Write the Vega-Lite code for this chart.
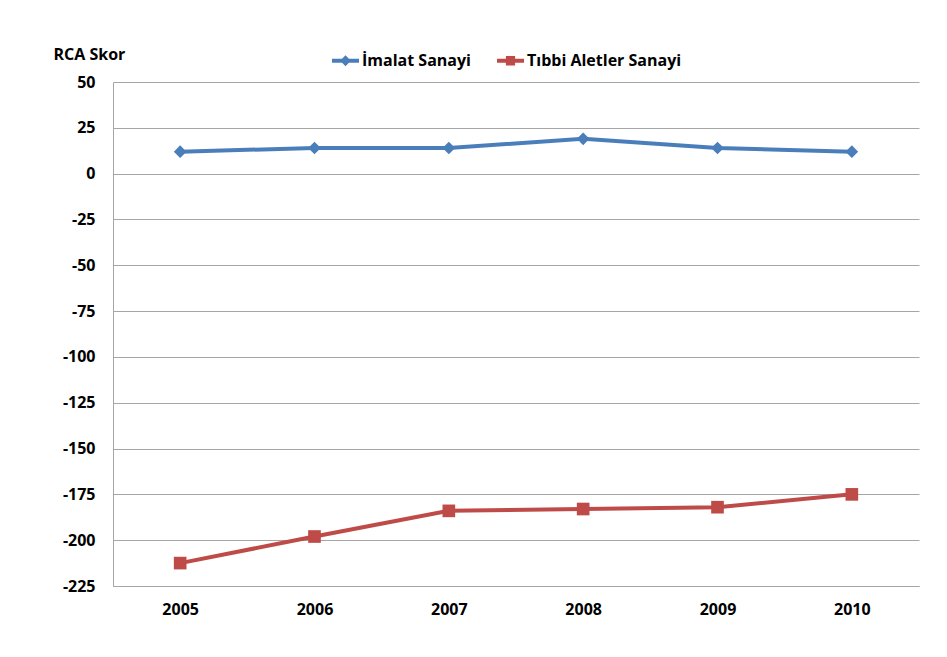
{
  "$schema": "https://vega.github.io/schema/vega-lite/v6.json",
  "width": 806,
  "height": 504,
  "autosize": {"type": "none"},
  "padding": {"left": 113, "top": 82, "right": 28, "bottom": 71},
  "background": "white",
  "config": {
    "font": "Open Sans",
    "view": {"stroke": null},
    "axis": {
      "labelFont": "Open Sans",
      "labelFontSize": 16,
      "labelFontWeight": "bold",
      "labelColor": "#000000",
      "titleFont": "Open Sans",
      "titleColor": "#000000"
    }
  },
  "data": {
    "values": [
      {"year": "2005", "series": "İmalat Sanayi", "value": 12},
      {"year": "2006", "series": "İmalat Sanayi", "value": 14},
      {"year": "2007", "series": "İmalat Sanayi", "value": 14},
      {"year": "2008", "series": "İmalat Sanayi", "value": 19},
      {"year": "2009", "series": "İmalat Sanayi", "value": 14},
      {"year": "2010", "series": "İmalat Sanayi", "value": 12},
      {"year": "2005", "series": "Tıbbi Aletler Sanayi", "value": -212.5},
      {"year": "2006", "series": "Tıbbi Aletler Sanayi", "value": -198},
      {"year": "2007", "series": "Tıbbi Aletler Sanayi", "value": -184},
      {"year": "2008", "series": "Tıbbi Aletler Sanayi", "value": -183},
      {"year": "2009", "series": "Tıbbi Aletler Sanayi", "value": -182},
      {"year": "2010", "series": "Tıbbi Aletler Sanayi", "value": -175}
    ]
  },
  "encoding": {
    "x": {
      "field": "year",
      "type": "ordinal",
      "scale": {"type": "point", "padding": 0.5},
      "axis": {
        "title": null,
        "labelAngle": 0,
        "ticks": false,
        "grid": false,
        "domain": true,
        "domainColor": "#A6A6A6",
        "labelPadding": 15
      }
    },
    "y": {
      "field": "value",
      "type": "quantitative",
      "scale": {"domain": [-225, 50], "nice": false, "zero": false},
      "axis": {
        "values": [-225, -200, -175, -150, -125, -100, -75, -50, -25, 0, 25, 50],
        "labelExpr": "'' + datum.value",
        "grid": true,
        "gridColor": "#A6A6A6",
        "domain": true,
        "domainColor": "#A6A6A6",
        "ticks": false,
        "labelPadding": 18,
        "title": "RCA Skor",
        "titleAngle": 0,
        "titleAlign": "left",
        "titleBaseline": "middle",
        "titleX": -60,
        "titleY": -28,
        "titleFontSize": 16,
        "titleFontWeight": "bold"
      }
    }
  },
  "layer": [
    {
      "mark": {"type": "line", "strokeWidth": 4},
      "encoding": {
        "color": {
          "field": "series",
          "type": "nominal",
          "scale": {"domain": ["İmalat Sanayi", "Tıbbi Aletler Sanayi"], "range": ["#4A7EBB", "#BE4B48"]},
          "legend": null
        }
      }
    },
    {
      "mark": {"type": "point", "filled": true, "size": 160, "opacity": 1},
      "encoding": {
        "color": {
          "field": "series",
          "type": "nominal",
          "scale": {"domain": ["İmalat Sanayi", "Tıbbi Aletler Sanayi"], "range": ["#4A7EBB", "#BE4B48"]},
          "legend": null
        },
        "shape": {
          "field": "series",
          "type": "nominal",
          "scale": {"domain": ["İmalat Sanayi", "Tıbbi Aletler Sanayi"], "range": ["diamond", "square"]},
          "legend": null
        }
      }
    },
    {
      "mark": {"type": "point", "filled": true, "opacity": 0},
      "encoding": {
        "color": {
          "field": "series",
          "type": "nominal",
          "scale": {"domain": ["İmalat Sanayi", "Tıbbi Aletler Sanayi"], "range": ["#4A7EBB", "#BE4B48"]},
          "legend": {
            "title": null,
            "orient": "none",
            "legendX": 219,
            "legendY": -35,
            "direction": "horizontal",
            "symbolSize": 729,
            "symbolOpacity": 1,
            "symbolStrokeWidth": 0,
            "labelFont": "Open Sans",
            "labelFontSize": 16,
            "labelFontWeight": "bold",
            "labelColor": "#000000",
            "columnPadding": 26,
            "labelOffset": 3
          }
        },
        "shape": {
          "field": "series",
          "type": "nominal",
          "scale": {
            "domain": ["İmalat Sanayi", "Tıbbi Aletler Sanayi"],
            "range": [
              "M-1,-0.15H1V0.15H-1Z M0,-0.4L0.4,0L0,0.4L-0.4,0Z",
              "M-1,-0.15H1V0.15H-1Z M-0.34,-0.36H0.34V0.36H-0.34Z"
            ]
          },
          "legend": {
            "title": null,
            "orient": "none",
            "legendX": 219,
            "legendY": -35,
            "direction": "horizontal",
            "symbolSize": 729,
            "symbolOpacity": 1,
            "symbolStrokeWidth": 0,
            "labelFont": "Open Sans",
            "labelFontSize": 16,
            "labelFontWeight": "bold",
            "labelColor": "#000000",
            "columnPadding": 26,
            "labelOffset": 3
          }
        }
      }
    }
  ],
  "resolve": {"scale": {"color": "independent", "shape": "independent"}}
}
